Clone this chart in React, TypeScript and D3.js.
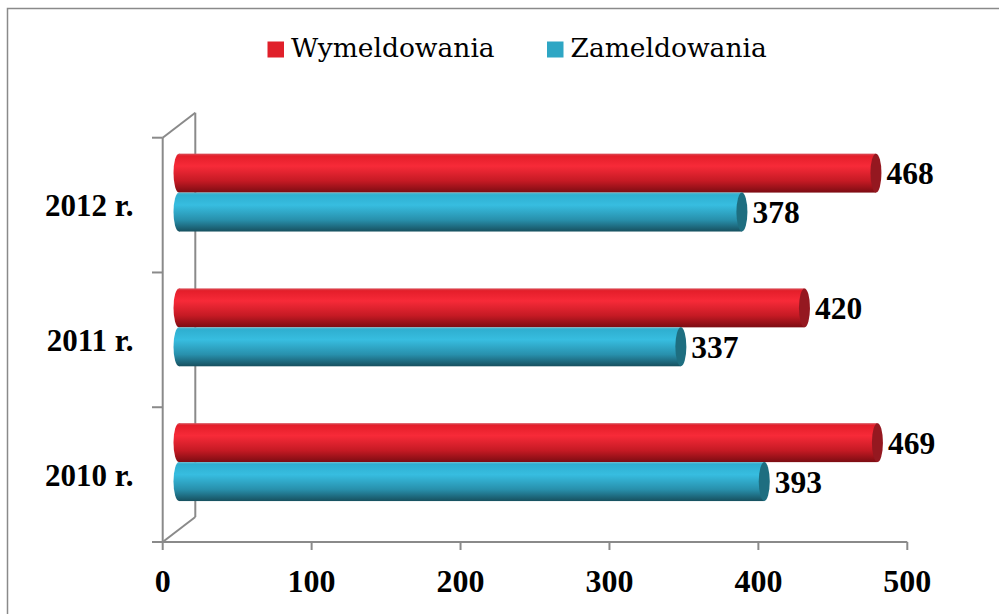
import React from 'react';
import * as d3 from 'd3';

const categories = ['2012 r.', '2011 r.', '2010 r.'];
const seriesNames = ['Wymeldowania', 'Zameldowania'];
const wymeldowania = [468, 420, 469];
const zameldowania = [378, 337, 393];
const xTicks = [0, 100, 200, 300, 400, 500];

const W = 999, H = 614;
const FONT = '"Liberation Serif", "Times New Roman", serif';
const LEGEND_FONT = '"DejaVu Serif", "Liberation Serif", serif';

const x = d3.scaleLinear().domain([0, 500]).range([162.7, 907.3]);
const yFront = d3.scaleBand<string>().domain(categories).range([137.7, 542]).paddingInner(0).paddingOuter(0);
const DX = 16.3, DY = -12.5; // mid-depth offset
const yBar = d3.scaleBand<string>().domain(categories).range([137.7 + DY, 542 + DY]).paddingInner(0.422).paddingOuter(0.211);
const ySeries = d3.scaleBand<string>().domain(seriesNames).range([0, yBar.bandwidth()]).padding(0);

const palettes = [
  { id: 'gRed', stops: [['0%', '#d8505a'], ['6%', '#e41e2a'], ['32%', '#f72a38'], ['70%', '#c51a24'], ['100%', '#7c0c12']], cap: '#951820', legend: '#e0202a' },
  { id: 'gBlue', stops: [['0%', '#5ab8cf'], ['6%', '#2fafd0'], ['32%', '#37bde0'], ['70%', '#2890ac'], ['100%', '#17505f']], cap: '#1e6e80', legend: '#2ea6c4' },
];

export default function App() {
  const seriesData = [wymeldowania, zameldowania];
  const rx = 5.5;
  const axisColor = '#8a8a8a';
  return (
    <svg width={W} height={H} style={{ position: 'absolute', left: 0, top: 0, background: '#fff' }}>
      <defs>
        {palettes.map((p) => (
          <linearGradient key={p.id} id={p.id} x1="0" y1="0" x2="0" y2="1">
            {p.stops.map(([o, c]) => <stop key={o} offset={o} stopColor={c} />)}
          </linearGradient>
        ))}
      </defs>
      <rect x={7.5} y={8.5} width={1100} height={800} fill="#fff" stroke="#8a8a8a" strokeWidth={1.5} />

      {/* legend */}
      {seriesNames.map((s, i) => {
        const lx = i === 0 ? 267.5 : 547;
        return (
          <g key={s}>
            <rect x={lx} y={41.5} width={16.5} height={16} fill={palettes[i].legend} />
            <text x={lx + 23.5} y={57.3} fontFamily={LEGEND_FONT} fontSize={26.5} fill="#000">{s}</text>
          </g>
        );
      })}

      {/* 3D frame */}
      <g stroke={axisColor} strokeWidth={2} fill="none">
        <line x1={x(0)} y1={yFront.range()[0]} x2={x(0)} y2={yFront.range()[1]} />
        <line x1={x(0)} y1={yFront.range()[0]} x2={x(0) + 2 * DX} y2={yFront.range()[0] + 2 * DY} />
        <line x1={x(0)} y1={yFront.range()[1]} x2={x(0) + 2 * DX} y2={yFront.range()[1] + 2 * DY} />
        <line x1={x(0) + 2 * DX} y1={yFront.range()[0] + 2 * DY} x2={x(0) + 2 * DX} y2={yFront.range()[1] + 2 * DY} />
        <line x1={152} y1={yFront.range()[1]} x2={x(500)} y2={yFront.range()[1]} />
        {categories.map((c) => (
          <line key={c} x1={152} x2={x(0)} y1={yFront(c)!} y2={yFront(c)!} />
        ))}
        {xTicks.map((t) => (
          <line key={t} x1={x(t)} x2={x(t)} y1={yFront.range()[1]} y2={yFront.range()[1] + 8} />
        ))}
      </g>

      {/* bars */}
      {categories.map((c, ci) => (
        <g key={c}>
          {seriesNames.map((s, si) => {
            const v = seriesData[si][ci];
            const y0 = yBar(c)! + ySeries(s)!;
            const h = ySeries.bandwidth();
            const xs = x(0) + DX;
            const xe = x(v) + DX;
            const p = palettes[si];
            return (
              <g key={s}>
                <ellipse cx={xs} cy={y0 + h / 2} rx={rx} ry={h / 2} fill={`url(#${p.id})`} />
                <rect x={xs} y={y0} width={xe - xs} height={h} fill={`url(#${p.id})`} />
                <ellipse cx={xe} cy={y0 + h / 2} rx={rx} ry={h / 2} fill={p.cap} />
                <text x={xe + rx + 5} y={y0 + h / 2 + 11} fontFamily={FONT} fontWeight="bold" fontSize={31.5} fill="#000">{v}</text>
              </g>
            );
          })}
        </g>
      ))}

      {/* category labels */}
      {categories.map((c) => (
        <text key={c} x={133.5} y={yFront(c)! + yFront.bandwidth() / 2 + 11} textAnchor="end" fontFamily={FONT} fontWeight="bold" fontSize={31} fill="#000">{c}</text>
      ))}

      {/* x tick labels */}
      {xTicks.map((t) => (
        <text key={t} x={x(t)} y={592} textAnchor="middle" fontFamily={FONT} fontWeight="bold" fontSize={32} fill="#000">{t}</text>
      ))}
    </svg>
  );
}
